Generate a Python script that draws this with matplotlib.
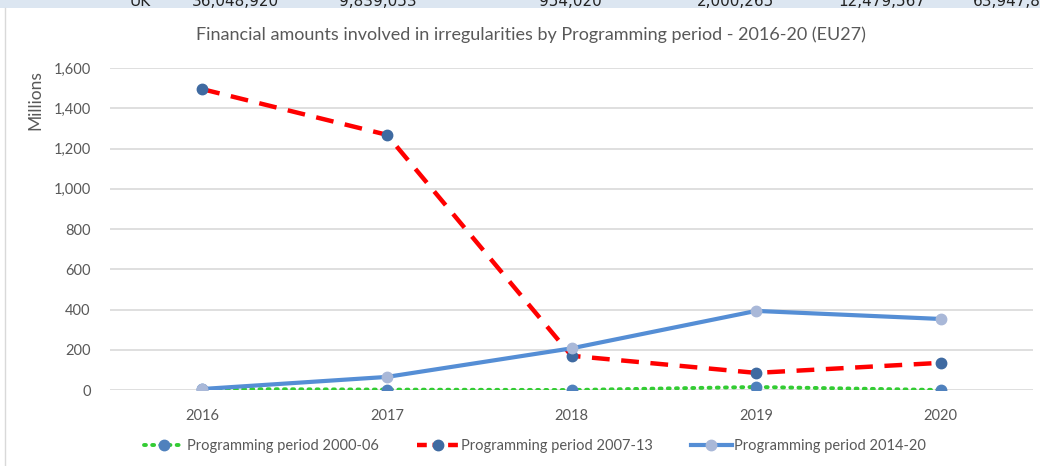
import numpy as np
import matplotlib
matplotlib.use("Agg")
import matplotlib.pyplot as plt
from matplotlib.lines import Line2D

# ---- data (millions EUR) ----
years = ["2016", "2017", "2018", "2019", "2020"]
pp_2000_06 = [5, 2, 0, 15, 0]
pp_2007_13 = [1495, 1268, 170, 85, 135]
pp_2014_20 = [5, 65, 207, 393, 353]

# clipped table row at the top of the screenshot
table_row = ["UK", "36,048,920", "9,839,053", "954,020", "2,000,265", "12,479,567", "63,947,83"]
table_x = [140, 235, 378, 570, 735, 882, 1012]

plt.rcParams["font.family"] = ["Lato", "DejaVu Sans"]
txt = "#595959"

fig = plt.figure(figsize=(10.4, 4.66), dpi=100)

# ---- top table strip ----
strip = fig.add_axes([0, 1 - 8 / 466, 1, 8 / 466])
strip.set_facecolor("#dce6f1")
strip.set_xlim(0, 1040)
strip.set_ylim(0, 8)
strip.set_xticks([])
strip.set_yticks([])
for s in strip.spines.values():
    s.set_visible(False)
for lbl, xx in zip(table_row, table_x):
    strip.text(xx, 7, lbl, ha="center", va="center", fontsize=11, color="#222222",
               family="Liberation Sans Narrow", clip_on=True)
fig.add_artist(Line2D([5 / 1040, 5 / 1040], [0, 1 - 8 / 466], color="#d9d9d9", lw=1))

# ---- main chart ----
ax = fig.add_axes([110 / 1040, 76 / 466, 923 / 1040, 322 / 466])
x = np.arange(len(years))

ax.plot(x, pp_2000_06, color="#33cc33", lw=2.8, ls=(0, (0.5, 1.6)), dash_capstyle="round",
        marker="o", ms=7.5, mfc="#4f81bd", mec="#4f81bd", zorder=3)
ax.plot(x, pp_2007_13, color="#ff0000", lw=3.2, ls=(0, (4, 2.6)),
        marker="o", ms=7.5, mfc="#3f6aa1", mec="#3f6aa1", zorder=4)
ax.plot(x, pp_2014_20, color="#558ed5", lw=3, solid_capstyle="round",
        marker="o", ms=7.5, mfc="#a9b8d8", mec="#a9b8d8", zorder=5)

ax.set_xlim(-0.5, len(years) - 0.5)
ax.set_ylim(0, 1600)
ax.set_yticks(np.arange(0, 1601, 200))
ax.set_yticklabels([f"{v:,}" for v in range(0, 1601, 200)])
ax.set_xticks(x)
ax.set_xticklabels(years)
ax.grid(axis="y", color="#d9d9d9", lw=1.2)
ax.set_axisbelow(True)
for s in ax.spines.values():
    s.set_visible(False)
ax.tick_params(length=0, labelsize=10.5, colors=txt, pad=14)
ax.tick_params(axis="x", pad=14)
ax.set_ylabel("Millions", fontsize=12.5, color=txt)
ax.yaxis.set_label_coords(-0.072, 0.9)

fig.text(531 / 1040, 1 - 35 / 466, "Financial amounts involved in irregularities by Programming period - 2016-20 (EU27)",
         ha="center", va="center", fontsize=13, color=txt)

handles = [
    Line2D([], [], color="#33cc33", lw=2.8, ls=(0, (0.5, 1.6)), dash_capstyle="round", marker="o", ms=7.5,
           mfc="#4f81bd", mec="#4f81bd"),
    Line2D([], [], color="#ff0000", lw=3.2, ls=(0, (2.2, 1.3)), marker="o", ms=7.5,
           mfc="#3f6aa1", mec="#3f6aa1"),
    Line2D([], [], color="#558ed5", lw=3, marker="o", ms=7.5, mfc="#a9b8d8", mec="#a9b8d8"),
]
labels = ["Programming period 2000-06", "Programming period 2007-13", "Programming period 2014-20"]
fig.legend(handles, labels, loc="center", bbox_to_anchor=(535 / 1040, 1 - 446 / 466), ncol=3,
           frameon=False, fontsize=10.5, labelcolor=txt, handlelength=2.8, handletextpad=0.2,
           columnspacing=2.6)

fig.savefig("out.png", dpi=100)
